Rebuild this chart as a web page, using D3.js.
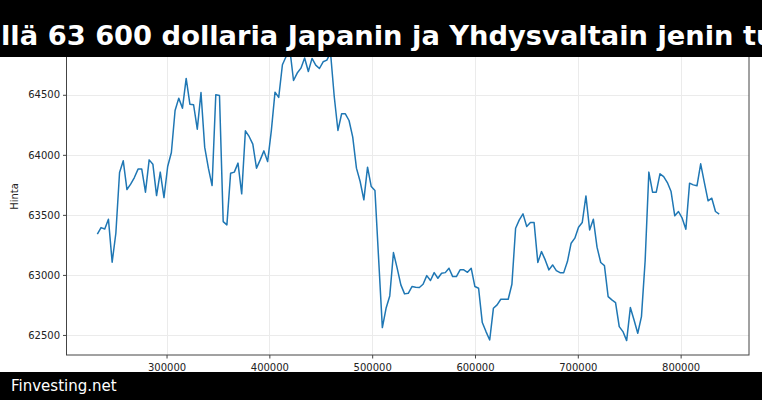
<!DOCTYPE html>
<html>
<head>
<meta charset="utf-8">
<script src="https://cdn.jsdelivr.net/npm/d3@7"></script>
<style>
  html, body { margin: 0; padding: 0; background: #fff; }
  svg { display: block; font-family: "DejaVu Sans", sans-serif; }
</style>
</head>
<body>
<svg id="chart" width="762" height="400"></svg>
<script>
// ---- data ----
const titleText = "llä 63 600 dollaria Japanin ja Yhdysvaltain jenin tu";
const footerText = "Finvesting.net";
const yLabel = "Hinta";

const xValues = [
  232700, 236300, 239900, 243500, 247100, 250700, 254300, 257900, 261500, 265100,
  268700, 272300, 275900, 279500, 283100, 286700, 290300, 293900, 297500, 301100,
  304700, 308300, 311900, 315500, 319100, 322700, 326300, 329900, 333500, 337100,
  340700, 344300, 347900, 351500, 355100, 358700, 362300, 365900, 369500, 373100,
  376700, 380300, 383900, 387500, 391100, 394700, 398300, 401900, 405500, 409100,
  412700, 416300, 419900, 423500, 427100, 430700, 434300, 437900, 441500, 445100,
  448700, 452300, 455900, 459500, 463100, 466700, 470300, 473900, 477500, 481100,
  484700, 488300, 491900, 495500, 499100, 502700, 506300, 509900, 513500, 517100,
  520700, 524300, 527900, 531500, 535100, 538700, 542300, 545900, 549500, 553100,
  556700, 560300, 563900, 567500, 571100, 574700, 578300, 581900, 585500, 589100,
  592700, 596300, 599900, 603500, 607100, 610700, 614300, 617900, 621500, 625100,
  628700, 632300, 635900, 639500, 643100, 646700, 650300, 653900, 657500, 661100,
  664700, 668300, 671900, 675500, 679100, 682700, 686300, 689900, 693500, 697100,
  700700, 704300, 707900, 711500, 715100, 718700, 722300, 725900, 729500, 733100,
  736700, 740300, 743900, 747500, 751100, 754700, 758300, 761900, 765500, 769100,
  772700, 776300, 779900, 783500, 787100, 790700, 794300, 797900, 801500, 805100,
  808700, 812300, 815900, 819500, 823100, 826700, 830300, 833900, 837500
];

const priceValues = [
  63339, 63394, 63383, 63464, 63106, 63347, 63853, 63950, 63711, 63756,
  63811, 63881, 63881, 63689, 63958, 63922, 63661, 63856, 63644, 63903,
  64019, 64369, 64472, 64389, 64636, 64422, 64417, 64214, 64519, 64064,
  63889, 63744, 64500, 64494, 63444, 63417, 63847, 63856, 63931, 63675,
  64200, 64153, 64089, 63889, 63958, 64033, 63944, 64200, 64522, 64478,
  64750, 64819, 64880, 64619, 64681, 64722, 64806, 64694, 64803, 64747,
  64719, 64775, 64789, 64850, 64486, 64203, 64342, 64342, 64286, 64147,
  63889, 63778, 63625, 63897, 63736, 63703, 63130, 62561, 62722, 62825,
  63186, 63056, 62917, 62842, 62847, 62903, 62897, 62895, 62922, 62994,
  62953, 63019, 62972, 63014, 63019, 63056, 62986, 62986, 63042, 63042,
  63022, 63056, 62903, 62889, 62603, 62528, 62458, 62722, 62750, 62797,
  62797, 62797, 62922, 63389, 63458, 63508, 63403, 63436, 63436, 63103,
  63194, 63125, 63042, 63083, 63036, 63019, 63019, 63111, 63264, 63306,
  63397, 63436, 63658, 63375, 63464, 63231, 63103, 63078, 62819, 62792,
  62769, 62569, 62528, 62453, 62728, 62625, 62514, 62653, 63120, 63856,
  63689, 63689, 63842, 63819, 63769, 63694, 63492, 63528, 63472, 63381,
  63764, 63750, 63742, 63925, 63769, 63617, 63639, 63528, 63506
];

const xTicks = [300000, 400000, 500000, 600000, 700000, 800000];
const yTicks = [62500, 63000, 63500, 64000, 64500];

// ---- layout ----
const W = 762, H = 400;
const plot = { left: 66.5, right: 749, top: 38, bottom: 355 };

const svg = d3.select("#chart");

const x = d3.scaleLinear().domain([202700, 866500]).range([plot.left, plot.right]);
const y = d3.scaleLinear().domain([62333, 64973]).range([plot.bottom, plot.top]);

const data = xValues.map((v, i) => ({ x: v, y: priceValues[i] }));

// grid
const grid = svg.append("g");
grid.selectAll(".gx").data(xTicks).join("line")
  .attr("x1", d => Math.round(x(d)) + 0.5).attr("x2", d => Math.round(x(d)) + 0.5)
  .attr("y1", plot.top).attr("y2", plot.bottom)
  .attr("stroke", "#ebebeb").attr("stroke-width", 1);
grid.selectAll(".gy").data(yTicks).join("line")
  .attr("x1", plot.left).attr("x2", plot.right)
  .attr("y1", d => Math.round(y(d)) + 0.5).attr("y2", d => Math.round(y(d)) + 0.5)
  .attr("stroke", "#ebebeb").attr("stroke-width", 1);

// clip
svg.append("defs").append("clipPath").attr("id", "clip")
  .append("rect").attr("x", plot.left).attr("y", plot.top)
  .attr("width", plot.right - plot.left).attr("height", plot.bottom - plot.top);

// line
const line = d3.line().x(d => x(d.x)).y(d => y(d.y));
svg.append("path").datum(data)
  .attr("clip-path", "url(#clip)")
  .attr("fill", "none")
  .attr("stroke", "#1f77b4")
  .attr("stroke-width", 1.5)
  .attr("stroke-linejoin", "round")
  .attr("d", line);

// axes
const xAxis = d3.axisBottom(x).tickValues(xTicks).tickFormat(d3.format("d")).tickSize(3.5).tickPadding(5);
const gx = svg.append("g").attr("transform", `translate(0,${plot.bottom})`).call(xAxis);
const yAxis = d3.axisLeft(y).tickValues(yTicks).tickFormat(d3.format("d")).tickSize(3.5).tickPadding(3);
const gy = svg.append("g").attr("transform", `translate(${plot.left},0)`).call(yAxis);
[gx, gy].forEach(g => {
  g.select(".domain").remove();
  g.selectAll(".tick line").attr("stroke", "#444");
  g.selectAll(".tick text").attr("fill", "#222").style("font-size", "10px")
    .style("font-family", "'DejaVu Sans', sans-serif");
});

// spines
svg.append("rect")
  .attr("x", plot.left).attr("y", plot.top)
  .attr("width", plot.right - plot.left).attr("height", plot.bottom - plot.top)
  .attr("fill", "none").attr("stroke", "#444").attr("stroke-width", 1);

// y label
svg.append("text")
  .attr("transform", `translate(18,${(plot.top + plot.bottom) / 2}) rotate(-90)`)
  .attr("text-anchor", "middle")
  .attr("fill", "#222")
  .style("font-size", "10px")
  .text(yLabel);

// title bar
svg.append("rect").attr("x", 0).attr("y", 0).attr("width", W).attr("height", 57).attr("fill", "#000");
svg.append("text")
  .attr("x", 1).attr("y", 45)
  .attr("fill", "#fff")
  .style("font-size", "27.3px").style("font-weight", "bold")
  .text(titleText);

// footer bar
svg.append("rect").attr("x", 0).attr("y", 372).attr("width", W).attr("height", 28).attr("fill", "#000");
svg.append("text")
  .attr("x", 11).attr("y", 391)
  .attr("fill", "#fff")
  .style("font-size", "15px")
  .text(footerText);
</script>
</body>
</html>
